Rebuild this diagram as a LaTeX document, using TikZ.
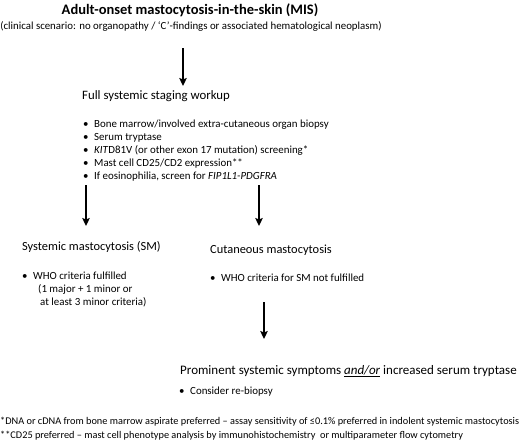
\documentclass[tikz,border=0pt]{standalone}
\usepackage{fontspec}
\setmainfont{Carlito}
\usetikzlibrary{arrows.meta}
\begin{document}
\begin{tikzpicture}[x=1pt,y=-1pt,
  txt/.style={anchor=mid west,inner sep=0pt,font=\fontsize{10.9}{12}\selectfont},
  head/.style={anchor=mid west,inner sep=0pt,font=\fontsize{12.4}{14}\selectfont},
  foot/.style={anchor=mid west,inner sep=0pt,font=\fontsize{10.3}{12}\selectfont},
  arr/.style={line width=1.5pt,-{Stealth[length=8pt,width=7.5pt,inset=1.5pt]}}]
\useasboundingbox (0,0) rectangle (520,447);
\newcommand\bul{\makebox[11pt][l]{\textbullet}}
\node[anchor=mid,inner sep=0pt,font=\bfseries\fontsize{14.5}{16}\selectfont] (title) at (190,12) {Adult-onset mastocytosis-in-the-skin (MIS)};
\node[anchor=mid,inner sep=0pt,font=\fontsize{10.85}{12}\selectfont] (sub) at (191,27) {(clinical scenario: no organopathy / `C'-findings or associated hematological neoplasm)};
\coordinate (a1s) at (183,48); \coordinate (a1e) at (183,86);
\draw[arr] (a1s) -- (a1e);
\node[head,font=\fontsize{12.8}{14}\selectfont] (full) at (82,97) {Full systemic staging workup};
\node[txt] (b1) at (83,125) {\bul Bone marrow/involved extra-cutaneous organ biopsy};
\node[txt] (b2) at (83,138) {\bul Serum tryptase};
\node[txt] (b3) at (83,151) {\bul \textit{KIT}D81V (or other exon 17 mutation) screening*};
\node[txt] (b4) at (83,164) {\bul Mast cell CD25/CD2 expression**};
\node[txt] (b5) at (83,177) {\bul If eosinophilia, screen for \textit{FIP1L1-PDGFRA}};
\coordinate (a2s) at (86,185); \coordinate (a2e) at (86,226);
\coordinate (a3s) at (259,185); \coordinate (a3e) at (259,226);
\draw[arr] (a2s) -- (a2e);
\draw[arr] (a3s) -- (a3e);
\node[head] (sm) at (22,248) {Systemic mastocytosis (SM)};
\node[head] (cm) at (210,251) {Cutaneous mastocytosis};
\node[txt] (s1) at (22,277) {\bul WHO criteria fulfilled};
\node[txt] (s2) at (38,290) {(1 major + 1 minor or};
\node[txt] (s3) at (40,303) {at least 3 minor criteria)};
\node[txt] (c1) at (210,279) {\bul WHO criteria for SM not fulfilled};
\coordinate (a4s) at (264,302); \coordinate (a4e) at (264,339);
\draw[arr] (a4s) -- (a4e);
\node[anchor=mid west,inner sep=0pt,font=\fontsize{13}{15}\selectfont] (prom) at (180,372) {Prominent systemic symptoms \underline{\textit{and/or}} increased serum tryptase};
\node[txt] (r1) at (179,392) {\bul Consider re-biopsy};
\node[foot] (f1) at (0,422) {*DNA or cDNA from bone marrow aspirate preferred -- assay sensitivity of ≤0.1\% preferred in indolent systemic mastocytosis};
\node[foot] (f2) at (0,436) {**CD25 preferred -- mast cell phenotype analysis by immunohistochemistry\ \ or multiparameter flow cytometry};
\end{tikzpicture}
\end{document}
